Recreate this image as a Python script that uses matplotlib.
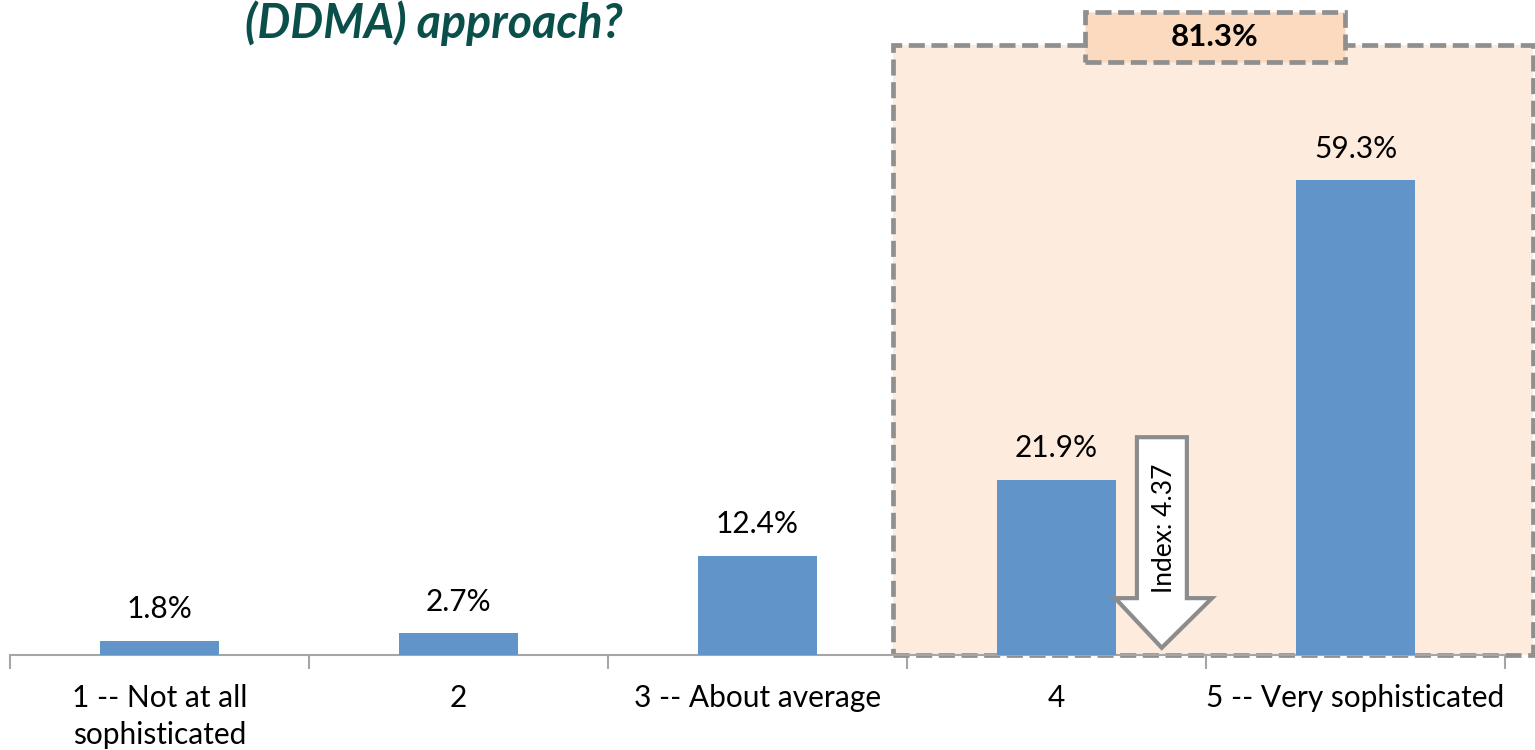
import matplotlib.pyplot as plt
from matplotlib.patches import Rectangle, Polygon

CATEGORIES = ["1 -- Not at all\nsophisticated", "2", "3 -- About average", "4", "5 -- Very sophisticated"]
VALUES = [1.8, 2.7, 12.4, 21.9, 59.3]
TOP_TWO_LABEL = "81.3%"
INDEX_LABEL = "Index: 4.37"
TITLE = "(DDMA) approach?"

BAR_COLOR = "#6195C9"
BOX_FILL = "#FDEBDD"
LABEL_FILL = "#FBDAC0"
DASH_GREY = "#8F8F8F"
AXIS_GREY = "#A6A6A6"
TITLE_COLOR = "#0B4F4A"

plt.rcParams["font.family"] = ["Lato", "DejaVu Sans"]

fig = plt.figure(figsize=(15.35, 7.5), dpi=100)
ax = fig.add_axes([10 / 1535, 95 / 750, 1495 / 1535, 655 / 750])

x = list(range(len(VALUES)))
ax.bar(x, VALUES, width=0.4, color=BAR_COLOR, zorder=3)
for xi, v in zip(x, VALUES):
    ax.text(xi, v + 2.2, f"{v:.1f}%", ha="center", va="bottom", fontsize=21.5, color="black", zorder=4)

ax.set_xlim(-0.5, 4.5)
ax.set_ylim(0, 81.8)

# highlight box around the top two categories
dash = (0, (3.4, 1.4))
ax.add_patch(Rectangle((2.453, 0), 2.141, 76.2, facecolor=BOX_FILL, edgecolor="none",
                       zorder=0, clip_on=False))
ax.add_patch(Rectangle((2.453, 0), 2.141, 76.2, facecolor="none", edgecolor=DASH_GREY,
                       linewidth=3.4, linestyle=dash, zorder=2, clip_on=False))
ax.add_patch(Rectangle((3.095, 74.0), 0.87, 6.3, facecolor=LABEL_FILL, edgecolor=DASH_GREY,
                       linewidth=3.4, linestyle=dash, zorder=5, clip_on=False))
ax.text(3.53, 77.15, TOP_TWO_LABEL, ha="center", va="center", fontsize=22.5,
        fontweight="bold", zorder=6)

# index arrow
arrow = Polygon([(3.269, 27.2), (3.436, 27.2), (3.436, 7.1), (3.52, 7.1), (3.352, 0.9),
                 (3.196, 7.1), (3.269, 7.1)], closed=True, facecolor="white",
                edgecolor="#8C8C8C", linewidth=3, zorder=5)
ax.add_patch(arrow)
ax.text(3.36, 15.8, INDEX_LABEL, rotation=90, ha="center", va="center", fontsize=19, zorder=6)

for side in ["top", "right", "left"]:
    ax.spines[side].set_visible(False)
ax.spines["bottom"].set_color(AXIS_GREY)
ax.spines["bottom"].set_linewidth(1.5)
ax.set_yticks([])
ax.set_xticks(x)
ax.set_xticklabels(CATEGORIES, fontsize=21.5, linespacing=1.4)
ax.tick_params(axis="x", which="major", length=0, pad=21)
ax.set_xticks([i - 0.5 for i in range(len(VALUES) + 1)], minor=True)
ax.tick_params(axis="x", which="minor", length=10, width=1.5, color=AXIS_GREY)

fig.text(245 / 1535, 1 - 38 / 750, TITLE, fontsize=33.5, fontweight="bold", fontstyle="italic",
         color=TITLE_COLOR, ha="left", va="baseline")

fig.savefig("out.png", dpi=100)
